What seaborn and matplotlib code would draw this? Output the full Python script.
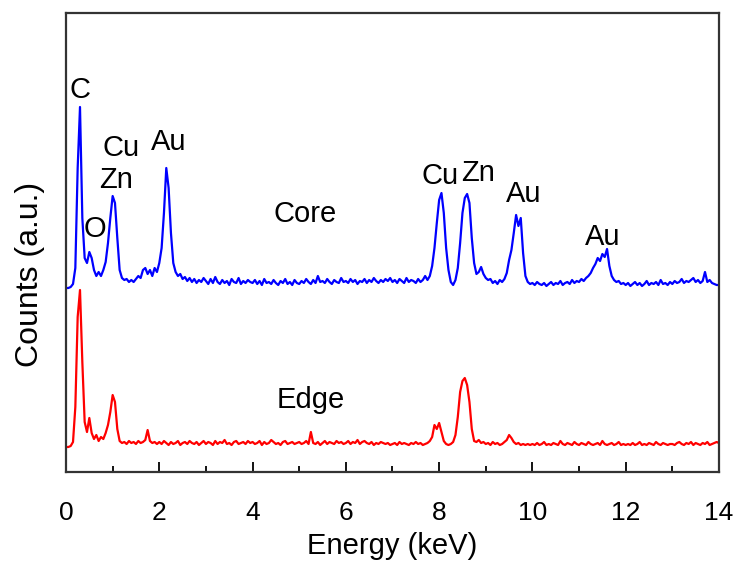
import matplotlib
matplotlib.use("Agg")
import matplotlib.pyplot as plt
from matplotlib.ticker import MultipleLocator
import seaborn as sns
import numpy as np
import pandas as pd

# channel energies (keV), 0.05 keV per channel
energy = np.round(np.arange(0, 281) * 0.05, 2)

# Core spectrum (a.u.), one row per keV
core_counts = [
    0, 0, 1, 4, 20, 120, 181, 70, 30, 25, 36, 30, 18, 12, 16, 12, 18, 26, 45, 70,
    92, 85, 50, 18, 10, 8, 9, 6, 8, 6, 9, 12, 10, 18, 20, 14, 18, 12, 20, 16,
    25, 40, 75, 120, 100, 55, 25, 16, 12, 14, 9, 11, 7, 10, 6, 9, 5, 8, 6, 10,
    7, 4, 9, 5, 11, 6, 4, 8, 5, 7, 3, 9, 6, 5, 10, 4, 7, 5, 8, 6,
    5, 8, 4, 7, 3, 9, 5, 6, 4, 8, 5, 3, 7, 5, 9, 4, 6, 3, 8, 5,
    4, 7, 5, 9, 6, 4, 8, 5, 12, 6, 7, 5, 9, 6, 4, 8, 6, 5, 10, 6,
    7, 5, 9, 6, 8, 4, 7, 6, 9, 5, 8, 6, 10, 7, 5, 8, 6, 9, 7, 10,
    6, 8, 5, 9, 7, 5, 10, 6, 8, 7, 5, 9, 6, 8, 12, 8, 12, 22, 40, 65,
    88, 95, 75, 40, 18, 6, 3, 8, 20, 45, 75, 90, 94, 85, 50, 25, 14, 16, 21, 14,
    10, 8, 9, 5, 7, 4, 8, 6, 9, 15, 28, 38, 55, 73, 62, 70, 35, 12, 6, 4,
    5, 3, 6, 4, 3, 5, 2, 4, 6, 3, 5, 4, 7, 3, 5, 6, 4, 8, 5, 7,
    6, 9, 7, 10, 12, 15, 20, 24, 30, 27, 34, 31, 39, 22, 12, 8, 6, 7, 4, 5,
    3, 5, 2, 4, 6, 3, 5, 2, 4, 7, 3, 5, 4, 6, 3, 8, 4, 5, 3, 6,
    4, 7, 5, 6, 9, 5, 7, 6, 8, 10, 6, 8, 5, 7, 16, 6, 8, 5, 4, 3,
    3,
]

# Edge spectrum (a.u.)
edge_counts = [
    0, 0, 1, 5, 40, 130, 157, 85, 25, 15, 29, 14, 8, 12, 6, 10, 8, 14, 22, 35,
    52, 45, 18, 6, 4, 5, 3, 6, 4, 5, 3, 6, 4, 5, 7, 17, 6, 4, 5, 3,
    5, 3, 6, 4, 2, 5, 3, 4, 6, 2, 4, 5, 3, 6, 4, 3, 5, 2, 4, 6,
    3, 5, 4, 2, 6, 3, 5, 4, 7, 3, 4, 2, 5, 6, 3, 4, 5, 3, 6, 4,
    5, 3, 4, 6, 2, 5, 3, 4, 7, 5, 3, 4, 2, 5, 6, 3, 4, 5, 3, 4,
    5, 3, 4, 6, 3, 15, 4, 3, 5, 2, 4, 6, 3, 5, 4, 3, 6, 4, 5, 3,
    4, 6, 3, 5, 4, 7, 3, 5, 6, 4, 3, 5, 2, 4, 3, 5, 4, 3, 4, 2,
    3, 4, 2, 5, 3, 4, 3, 2, 4, 3, 5, 3, 4, 2, 3, 4, 6, 10, 22, 18,
    24, 15, 6, 3, 2, 3, 5, 12, 30, 55, 66, 69, 62, 45, 18, 6, 5, 7, 4, 5,
    3, 4, 2, 5, 3, 4, 2, 3, 5, 7, 12, 9, 5, 3, 4, 2, 3, 2, 3, 2,
    3, 2, 4, 2, 3, 5, 2, 3, 2, 4, 3, 2, 6, 3, 2, 4, 3, 2, 5, 3,
    2, 4, 3, 2, 5, 3, 2, 3, 4, 2, 6, 3, 2, 3, 4, 2, 3, 5, 2, 3,
    2, 3, 2, 4, 2, 3, 5, 2, 3, 2, 4, 3, 2, 5, 3, 2, 4, 3, 2, 3,
    3, 2, 4, 5, 3, 2, 4, 3, 5, 2, 4, 3, 2, 4, 3, 5, 2, 3, 4, 5,
    4,
]

# peak labels: (text, energy, height on the stacked plot)
peak_labels = ["C", "O", "Cu", "Zn", "Au", "Cu", "Zn", "Au", "Au"]
peak_x = [0.30, 0.62, 1.18, 1.07, 2.21, 8.02, 8.83, 9.82, 11.51]
peak_y = [357, 218, 299, 267, 305, 271, 274, 253, 210]

core_offset = 159

sns.set_style("ticks")
plt.rcParams['font.family'] = ['Liberation Sans', 'DejaVu Sans']
plt.rcParams['text.color'] = 'black'
plt.rcParams['axes.labelcolor'] = 'black'
plt.rcParams['xtick.color'] = 'black'

df = pd.DataFrame({"energy": energy,
                   "core": np.array(core_counts) + core_offset,
                   "edge": edge_counts})

fig = plt.figure(figsize=(7.4, 5.65), dpi=100)
ax = fig.add_axes([0.0892, 0.1646, 0.8824, 0.8124])

sns.lineplot(data=df, x="energy", y="core", color="#0000ff", lw=1.6, ax=ax)
sns.lineplot(data=df, x="energy", y="edge", color="#ff0000", lw=1.6, ax=ax)

for t, x, y in zip(peak_labels, peak_x, peak_y):
    ax.text(x, y, t, fontsize=21, ha="center", va="center")
ax.text(5.12, 233, "Core", fontsize=21, ha="center", va="center")
ax.text(5.25, 47, "Edge", fontsize=21, ha="center", va="center")

ax.set_xlim(0, 14)
ax.set_ylim(-25, 434)
ax.xaxis.set_major_locator(MultipleLocator(2))
ax.xaxis.set_minor_locator(MultipleLocator(1))
ax.tick_params(axis="x", which="major", direction="in", length=7, width=1.3,
               labelsize=19, pad=21)
ax.tick_params(axis="x", which="minor", direction="in", length=4, width=1.3)
ax.set_yticks([])
for s in ax.spines.values():
    s.set_visible(True)
    s.set_linewidth(1.6)
    s.set_color("#333333")

ax.set_xlabel("Energy (keV)", fontsize=21)
ax.set_ylabel("Counts (a.u.)", fontsize=23)
ax.xaxis.set_label_coords(0.5, -0.1307)
ax.yaxis.set_label_coords(-0.032, 0.43)

fig.savefig("out.png", dpi=100)
plt.close()
